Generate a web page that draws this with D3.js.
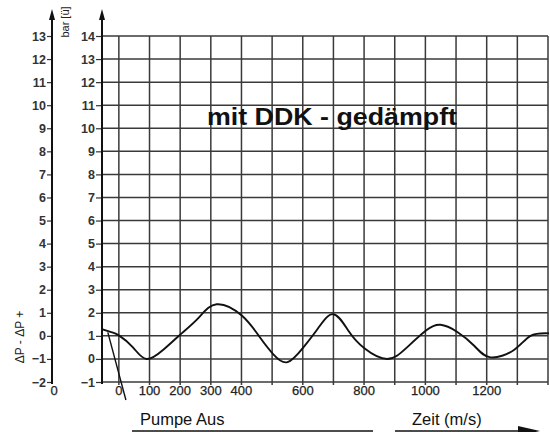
<!DOCTYPE html>
<html><head><meta charset="utf-8">
<script src="https://cdn.jsdelivr.net/npm/d3@7"></script>
<style>
html,body{margin:0;padding:0;background:#fff;}
svg{display:block;font-family:"Liberation Sans",Arial,sans-serif;}
</style></head>
<body>
<svg id="c" width="550" height="432"></svg>
<script>
// Data
const timeMs = [-57, -25, 0, 46, 90, 145, 199, 260, 319, 401, 460, 504, 550, 602, 650, 700, 750, 801, 875, 940, 1003, 1049, 1103, 1160, 1212, 1289, 1343, 1403];
const pressureBar = [1.3, 1.16, 1.02, 0.5, 0.0, 0.4, 1.04, 1.78, 2.37, 1.88, 0.94, 0.2, -0.14, 0.5, 1.33, 1.94, 1.2, 0.46, 0.0, 0.5, 1.24, 1.48, 1.18, 0.56, 0.07, 0.39, 1.0, 1.11];
const xTickLabels = [0, 100, 200, 300, 400, 600, 800, 1000, 1200];
const xGrid = [0, 100, 200, 300, 400, 500, 600, 700, 800, 900, 1000, 1100, 1200, 1300, 1400];
const barTicks = [-1,0,1,2,3,4,5,6,7,8,9,10,11,12,13,14];
const deltaTicks = [-2,-1,0,1,2,3,4,5,6,7,8,9,10,11,12,13];
const pumpeAusMarker = [[-36, 1.15], [23, -1.78]];
const title = "mit DDK - gedämpft";

const svg = d3.select("#c");
const x = d3.scaleLinear().domain([-55, 1400]).range([102, 548]);
const y = d3.scaleLinear().domain([-1, 14]).range([382, 36]);
const y2 = d3.scaleLinear().domain([-2, 13]).range([382, 36]);

const gridColor = "#3a3a3a";
svg.append("g").selectAll("line").data(barTicks).join("line")
  .attr("x1", x(-55)).attr("x2", x(1400))
  .attr("y1", d => y(d)).attr("y2", d => y(d))
  .attr("stroke", gridColor).attr("stroke-width", 1.5);
svg.append("g").selectAll("line").data(xGrid).join("line")
  .attr("x1", d => x(d)).attr("x2", d => x(d))
  .attr("y1", y(14)).attr("y2", y(-1) + 3)
  .attr("stroke", gridColor).attr("stroke-width", 1.5);

function styleAxis(g) {
  g.select(".domain").remove();
  g.selectAll(".tick line").attr("stroke", "#333").attr("stroke-width", 1.2);
  g.selectAll(".tick text").attr("font-size", 12.5).attr("font-weight", "bold").attr("fill", "#333")
    .attr("font-family", "Liberation Sans, Arial, sans-serif");
}
const gi = svg.append("g").attr("transform", `translate(${x(-55)},0)`)
  .call(d3.axisLeft(y).tickValues(barTicks).tickSize(6).tickPadding(1));
styleAxis(gi);
const go = svg.append("g").attr("transform", "translate(52,0)")
  .call(d3.axisLeft(y2).tickValues(deltaTicks).tickSize(5).tickPadding(1));
styleAxis(go);

function vArrow(xp) {
  svg.append("line").attr("x1", xp).attr("x2", xp).attr("y1", 16).attr("y2", 384)
    .attr("stroke", "#111").attr("stroke-width", 2);
  svg.append("path").attr("d", `M${xp},9 L${xp-3},20 L${xp+3},20 Z`).attr("fill", "#111");
}
vArrow(52);
vArrow(x(-55));

svg.append("g").selectAll("text").data(xTickLabels).join("text")
  .attr("x", d => x(d)).attr("y", 395)
  .attr("text-anchor", "middle").attr("font-size", 13).attr("fill", "#222")
  .attr("stroke", "#222").attr("stroke-width", 0.25)
  .text(d => d);
svg.append("text").attr("x", 54).attr("y", 395).attr("text-anchor", "middle")
  .attr("font-size", 13).attr("fill", "#222").attr("stroke", "#222").attr("stroke-width", 0.25).text("0");

svg.append("text").attr("transform", "translate(69,22) rotate(-90)")
  .attr("text-anchor", "middle").attr("font-size", 11).attr("fill", "#222").text("bar [ü]");
svg.append("text").attr("transform", "translate(24,337) rotate(-90)")
  .attr("text-anchor", "middle").attr("font-size", 12).attr("fill", "#222").text("ΔP - ΔP +");

svg.append("text").attr("x", 207).attr("y", 125)
  .attr("font-size", 24.5).attr("font-weight", "bold").attr("fill", "#111")
  .attr("textLength", 250).attr("lengthAdjust", "spacingAndGlyphs").text(title);

const line = d3.line().x(d => x(d[0])).y(d => y(d[1])).curve(d3.curveNatural);
const pts = timeMs.map((t, i) => [t, pressureBar[i]]);
svg.append("path").datum(pts).attr("d", line)
  .attr("fill", "none").attr("stroke", "#111").attr("stroke-width", 1.9);

svg.append("path").datum(pumpeAusMarker)
  .attr("d", d3.line().x(d => x(d[0])).y(d => y(d[1])))
  .attr("fill", "none").attr("stroke", "#111").attr("stroke-width", 1.4);

svg.append("text").attr("x", 140).attr("y", 425).attr("font-size", 16.5).attr("fill", "#111").text("Pumpe Aus");
svg.append("line").attr("x1", 132).attr("x2", 373).attr("y1", 431).attr("y2", 431)
  .attr("stroke", "#111").attr("stroke-width", 1.4);
svg.append("text").attr("x", 412).attr("y", 425).attr("font-size", 16.5).attr("fill", "#111").text("Zeit (m/s)");
svg.append("line").attr("x1", 395).attr("x2", 525).attr("y1", 431).attr("y2", 431)
  .attr("stroke", "#111").attr("stroke-width", 1.4);
svg.append("path").attr("d", "M540,431 L518,426 L518,436 Z").attr("fill", "#111");
</script>
</body></html>
